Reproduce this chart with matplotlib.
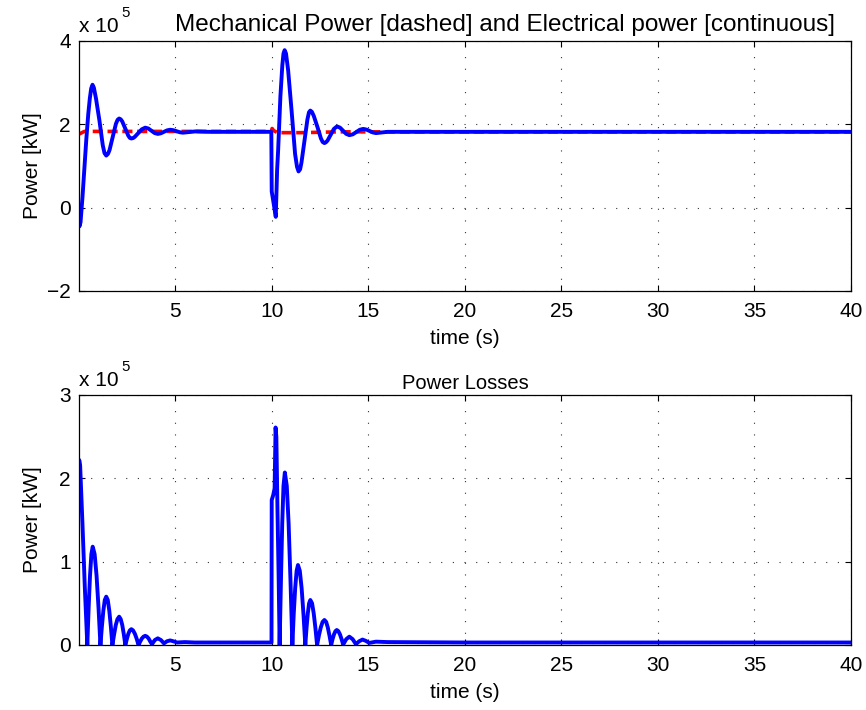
import matplotlib
matplotlib.use("Agg")
import matplotlib.pyplot as plt

plt.rcParams['font.family'] = ['Liberation Sans', 'DejaVu Sans']
plt.rcParams['axes.unicode_minus'] = True

# ---- Mechanical power (red dashed), x 1e5 kW ----
mech_t = [0.00, 0.30, 9.98, 10.02, 10.10, 10.30, 11.50, 12.50, 13.50, 40.0]
mech_p = [1.76, 1.83, 1.83, 1.90, 1.85, 1.80, 1.80, 1.81, 1.82, 1.82]

# ---- Electrical power (blue continuous), x 1e5 kW ----
elec_t = [0.00, 0.04, 0.10, 0.20, 0.30, 0.40, 0.50, 0.58, 0.65, 0.72, 0.79,
          0.90, 1.075, 1.25, 1.34, 1.43, 1.52, 1.60, 1.765, 1.93, 2.02, 2.10,
          2.18, 2.26, 2.415, 2.57, 2.65, 2.73, 2.82, 2.91, 3.09, 3.27, 3.45,
          3.61, 3.775, 3.94, 4.10, 4.26, 4.42, 4.58, 4.74,
          4.90, 5.07, 5.24, 5.40, 6.05, 6.70, 9.98,
          10.00, 10.07, 10.21, 10.28, 10.33, 10.45, 10.55, 10.61, 10.67, 10.74,
          10.85, 11.03, 11.21, 11.31, 11.39, 11.47, 11.54, 11.695, 11.85, 11.93, 12.00,
          12.08, 12.18, 12.365, 12.55, 12.64, 12.73, 12.81, 12.89, 13.055, 13.22, 13.38,
          13.54, 13.70, 13.86, 14.02, 14.20, 14.38, 14.56, 14.74,
          14.90, 15.07, 15.24, 15.40, 16.00, 17.00, 40.0]
elec_p = [-0.05, -0.45, -0.35, 0.25, 0.95, 1.65, 2.25, 2.62, 2.86, 2.95, 2.88,
          2.62, 2.10, 1.50, 1.31, 1.25, 1.29, 1.38, 1.695, 2.01, 2.11, 2.14,
          2.12, 2.07, 1.90, 1.73, 1.675, 1.66, 1.67, 1.70, 1.79, 1.88, 1.92,
          1.90, 1.845, 1.79, 1.77, 1.785, 1.82, 1.855, 1.87,
          1.86, 1.835, 1.81, 1.80, 1.83, 1.82, 1.82,
          0.39, 0.19, -0.22, 0.91, 1.35, 2.67, 3.42, 3.70, 3.78, 3.70,
          3.30, 2.325, 1.29, 0.98, 0.87, 0.92, 1.08, 1.60, 2.12, 2.29, 2.33,
          2.30, 2.20, 1.94, 1.66, 1.575, 1.55, 1.57, 1.61, 1.75, 1.89, 1.95,
          1.92, 1.845, 1.77, 1.74, 1.76, 1.815, 1.87, 1.89,
          1.875, 1.84, 1.805, 1.79, 1.82, 1.82, 1.82]

# ---- Power losses (blue), x 1e5 kW ----
loss_t = [0.00, 0.03, 0.08, 0.20, 0.32, 0.45,
          0.52, 0.59, 0.66, 0.73, 0.83, 0.93, 1.03, 1.13,
          1.205, 1.28, 1.355, 1.43, 1.51, 1.59, 1.67, 1.75,
          1.84, 1.925, 2.01, 2.10, 2.18, 2.26, 2.34, 2.42,
          2.50, 2.575, 2.65, 2.73, 2.82, 2.915, 3.01, 3.10,
          3.19, 3.275, 3.36, 3.45, 3.54, 3.625, 3.71, 3.80,
          3.95, 4.10, 4.26, 4.42, 4.58, 4.74, 4.90, 5.10,
          5.50, 6.00, 9.99,
          10.00, 10.08, 10.15, 10.20, 10.24, 10.30, 10.36, 10.41,
          10.48, 10.545, 10.61, 10.68, 10.78, 10.875, 10.97, 11.07,
          11.14, 11.215, 11.29, 11.36, 11.455, 11.55, 11.645, 11.74,
          11.805, 11.87, 11.935, 12.00, 12.09, 12.175, 12.26, 12.35,
          12.445, 12.54, 12.635, 12.73, 12.82, 12.905, 12.99, 13.08,
          13.15, 13.225, 13.30, 13.37, 13.45, 13.535, 13.62, 13.70,
          13.86, 14.02, 14.19, 14.36, 14.53, 14.70, 14.87, 15.05,
          15.40, 16.00, 20.00, 40.0]
loss_p = [1.76, 2.22, 2.15, 1.45, 0.70, 0.00,
          0.45, 0.83, 1.09, 1.18, 1.09, 0.83, 0.45, 0.00,
          0.22, 0.41, 0.54, 0.58, 0.54, 0.41, 0.22, 0.00,
          0.13, 0.24, 0.31, 0.34, 0.31, 0.24, 0.13, 0.00,
          0.073, 0.134, 0.175, 0.19, 0.175, 0.134, 0.073, 0.00,
          0.042, 0.078, 0.10, 0.11, 0.10, 0.078, 0.042, 0.01,
          0.06, 0.08, 0.06, 0.02, 0.045, 0.055, 0.045, 0.03,
          0.035, 0.03, 0.03,
          1.74, 1.80, 1.88, 2.61, 2.50, 1.60, 0.80, 0.00,
          0.79, 1.46, 1.91, 2.07, 1.91, 1.46, 0.79, 0.00,
          0.37, 0.68, 0.89, 0.96, 0.89, 0.68, 0.37, 0.00,
          0.21, 0.38, 0.50, 0.54, 0.50, 0.38, 0.21, 0.00,
          0.115, 0.21, 0.277, 0.30, 0.277, 0.21, 0.115, 0.00,
          0.069, 0.127, 0.166, 0.18, 0.166, 0.127, 0.069, 0.005,
          0.07, 0.10, 0.07, 0.01, 0.045, 0.065, 0.05, 0.025,
          0.04, 0.035, 0.03, 0.03]

x_ticks = [5, 10, 15, 20, 25, 30, 35, 40]
top_yticks = [-2, 0, 2, 4]
bot_yticks = [0, 1, 2, 3]

FS = 15
W, H = 866, 710
fig = plt.figure(figsize=(W / 100, H / 100), dpi=100)


def style_axes(ax, yticks, ylim):
    ax.set_xlim(0.02, 40)
    ax.set_ylim(*ylim)
    ax.set_xticks(x_ticks)
    ax.set_yticks(yticks)
    ax.tick_params(direction='in', length=4.5, width=0.8, top=True, right=True,
                   labelsize=FS, colors='black')
    ax.tick_params(axis='x', pad=8)
    ax.tick_params(axis='y', pad=6)
    for s in ax.spines.values():
        s.set_linewidth(0.9)
        s.set_color('black')
    ax.grid(True, color='0.2', linestyle=(0, (1, 9.5)), linewidth=0.8)
    ax.set_axisbelow(True)
    ax.set_xlabel('time (s)', fontsize=FS, labelpad=6)
    ax.set_ylabel('Power [kW]', fontsize=FS)
    ax.yaxis.set_label_coords(-37 / 772, 0.5)


def exp_label(ax):
    ax.text(0.0, 1.02, 'x 10', transform=ax.transAxes, fontsize=FS,
            ha='left', va='bottom')
    ax.text(0.055, 1.085, '5', transform=ax.transAxes, fontsize=FS * 0.72,
            ha='left', va='bottom')


# Top: mechanical and electrical power
ax1 = fig.add_axes([79 / W, 1 - 291 / H, 772 / W, 250 / H])
ax1.plot(mech_t, mech_p, color=(1, 0, 0), linewidth=2.6, dashes=(2.8, 1.3))
ax1.plot(elec_t, elec_p, color=(0, 0, 1), linewidth=2.8)
style_axes(ax1, top_yticks, (-2, 4))
exp_label(ax1)
ax1.text(0.552, 1.02, 'Mechanical Power [dashed] and Electrical power [continuous]',
         transform=ax1.transAxes, fontsize=17.5, ha='center', va='bottom')

# Bottom: power losses
ax2 = fig.add_axes([79 / W, 1 - 645 / H, 772 / W, 250 / H])
ax2.plot(loss_t, loss_p, color=(0, 0, 1), linewidth=2.8)
style_axes(ax2, bot_yticks, (0, 3))
exp_label(ax2)
ax2.set_title('Power Losses', fontsize=14.5, pad=4)

fig.savefig('out.png', dpi=100)
